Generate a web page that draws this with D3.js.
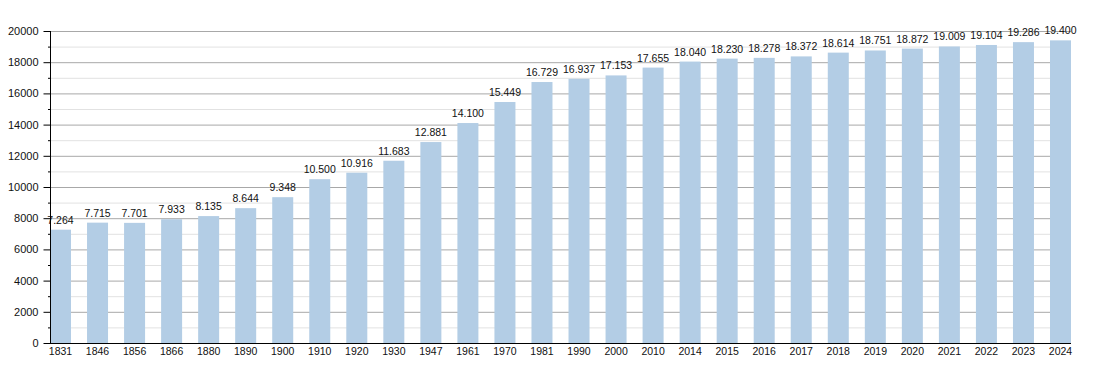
<!DOCTYPE html>
<html>
<head>
<meta charset="utf-8">
<script src="https://cdn.jsdelivr.net/npm/d3@7"></script>
<style>
  body { margin: 0; background: #fff; }
  text { font-family: "Liberation Sans", Arial, sans-serif; font-size: 10.5px; fill: #111; }
</style>
</head>
<body>
<svg id="chart" width="1100" height="373"></svg>
<script>
// data
const years = ["1831", "1846", "1856", "1866", "1880", "1890", "1900", "1910", "1920", "1930", "1947", "1961", "1970",
  "1981", "1990", "2000", "2010", "2014", "2015", "2016", "2017", "2018", "2019", "2020", "2021", "2022", "2023", "2024"];
const population = [7264, 7715, 7701, 7933, 8135, 8644, 9348, 10500, 10916, 11683, 12881, 14100, 15449,
  16729, 16937, 17153, 17655, 18040, 18230, 18278, 18372, 18614, 18751, 18872, 19009, 19104, 19286, 19400];
const majorTicks = [0, 2000, 4000, 6000, 8000, 10000, 12000, 14000, 16000, 18000, 20000];
const minorTicks = [1000, 3000, 5000, 7000, 9000, 11000, 13000, 15000, 17000, 19000];

const svg = d3.select("#chart");
const plotLeft = 50, plotRight = 1071, plotTop = 31, plotBottom = 343;

let x = d3.scaleBand()
  .domain(years)
  .range([plotLeft, plotRight])
  .paddingInner(0.433)
  .paddingOuter(0);

let y = d3.scaleLinear()
  .domain([0, 20000])
  .range([plotBottom, plotTop]);

// grid lines, minor first
svg.append("g")
  .selectAll("line")
  .data(minorTicks)
  .join("line")
  .attr("x1", plotLeft).attr("x2", plotRight)
  .attr("y1", d => y(d) + 0.5).attr("y2", d => y(d) + 0.5)
  .attr("stroke", "#e2e2e2")
  .attr("stroke-width", 1);

svg.append("g")
  .selectAll("line")
  .data(majorTicks.filter(d => d > 0))
  .join("line")
  .attr("x1", plotLeft).attr("x2", plotRight)
  .attr("y1", d => y(d) + 0.5).attr("y2", d => y(d) + 0.5)
  .attr("stroke", "#a8a8a8")
  .attr("stroke-width", 1);

// bars
svg.append("g")
  .selectAll("rect")
  .data(population)
  .join("rect")
  .attr("x", (d, i) => x(years[i]))
  .attr("y", d => y(d))
  .attr("width", x.bandwidth())
  .attr("height", d => plotBottom - y(d))
  .attr("fill", "#b3cde5");

// value labels, with "." as thousands separator
const fmt = d3.formatLocale({decimal: ",", thousands: ".", grouping: [3], currency: ["", ""]}).format(",d");
svg.append("g")
  .selectAll("text")
  .data(population)
  .join("text")
  .attr("x", (d, i) => x(years[i]) + x.bandwidth() / 2)
  .attr("y", d => y(d) - 6)
  .attr("text-anchor", "middle")
  .style("font-size", "10.5px")
  .text(d => fmt(d));

// y axis
let yAxis = svg.append("g")
  .attr("transform", "translate(" + (plotLeft + 0.5) + ",0)")
  .call(d3.axisLeft(y).tickValues(majorTicks).tickSize(7).tickPadding(5).tickFormat(d3.format("d")));
yAxis.select(".domain").remove();
yAxis.selectAll("line").attr("stroke", "#000");
yAxis.selectAll("text").style("font-family", "'Liberation Sans', Arial, sans-serif").style("font-size", "11px").attr("fill", "#111");

svg.append("g")
  .selectAll("line")
  .data(minorTicks)
  .join("line")
  .attr("x1", plotLeft - 2).attr("x2", plotLeft)
  .attr("y1", d => y(d) + 0.5).attr("y2", d => y(d) + 0.5)
  .attr("stroke", "#000");

svg.append("line")
  .attr("x1", plotLeft + 0.5).attr("x2", plotLeft + 0.5)
  .attr("y1", plotTop).attr("y2", plotBottom + 1)
  .attr("stroke", "#000");

// x axis
svg.append("line")
  .attr("x1", plotLeft).attr("x2", plotRight)
  .attr("y1", plotBottom + 0.5).attr("y2", plotBottom + 0.5)
  .attr("stroke", "#000");

svg.append("g")
  .selectAll("text")
  .data(years)
  .join("text")
  .attr("x", d => x(d) + x.bandwidth() / 2)
  .attr("y", plotBottom + 12)
  .attr("text-anchor", "middle")
  .text(d => d);
</script>
</body>
</html>
